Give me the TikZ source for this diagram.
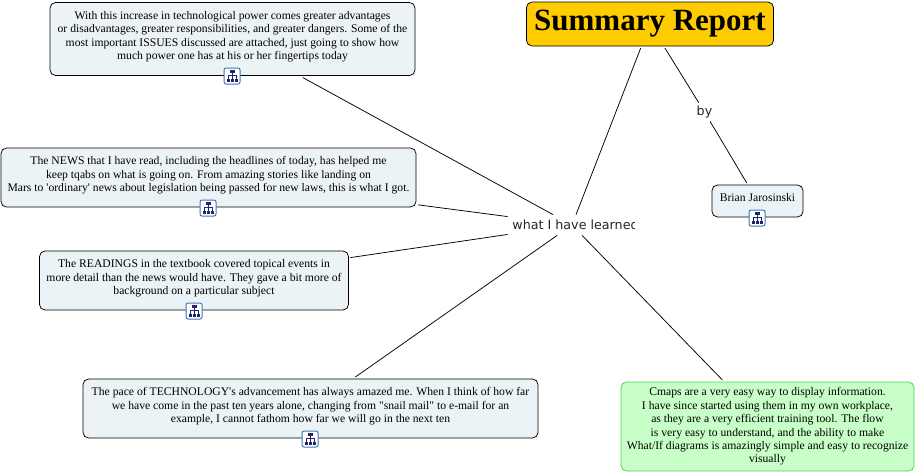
\documentclass[tikz,border=0pt]{standalone}
\usepackage{fontspec}
\setmainfont{Liberation Serif}[Ligatures=TeXOff]
\newfontfamily\labelfont{DejaVu Sans}
\usetikzlibrary{positioning}
\definecolor{boxfill}{HTML}{ECF3F6}
\definecolor{titlefill}{HTML}{FFCC00}
\definecolor{greenfill}{HTML}{C8FFC8}
\definecolor{greenline}{HTML}{55CC55}
\definecolor{iconblue}{HTML}{3F78B8}
\definecolor{icondark}{HTML}{23236E}
\newcommand{\iconroom}{\\[-6.4pt]\mbox{}}
\newcommand{\treeicon}[2]{%
  \node[iconbox] (#1) at (#2) {};
  \begin{scope}[shift={(#1.center)}]
    \draw[icondark, line width=0.6pt] (0,-3) -- (0,3) (-4,4) -- (-4,-1) -- (4,-1) -- (4,4);
    \fill[icondark] (-2.5,-6) rectangle (2.5,-3);
    \foreach \xpos in {-4,0,4} {\fill[icondark] (\xpos-1.5,3) rectangle (\xpos+1.5,6);}
  \end{scope}}
\begin{document}
\begin{tikzpicture}[x=1pt, y=-1pt, line width=0.75pt,
  txt/.style={font=\fontsize{11.65}{13.4}\selectfont, align=center, inner sep=0pt},
  concept/.style={txt, draw=black, fill=boxfill, rounded corners=5.5pt, outer sep=2pt},
  iconbox/.style={draw=iconblue, fill=white, rounded corners=2pt, line width=1pt, minimum width=16pt, minimum height=16pt, inner sep=0pt},
  linker/.style={font=\labelfont\fontsize{12.7}{15}\selectfont, inner sep=0pt, text=black!85}]
\useasboundingbox (0,0) rectangle (915,474);
\node[concept, fill=titlefill, minimum width=247pt, minimum height=44pt, font=\bfseries\fontsize{31}{34}\selectfont] (title) at (650,24) {\raisebox{-1pt}{Summary Report}};
\node[concept, minimum width=365pt, minimum height=73pt] (issues) at (232.5,39) {With this increase in technological power comes greater advantages\\or disadvantages, greater responsibilities, and greater dangers. Some of the\\most important ISSUES discussed are attached, just going to show how\\much power one has at his or her fingertips today\iconroom};
\node[concept, minimum width=415pt, minimum height=59pt] (news) at (208.5,177.5) {The NEWS that I have read, including the headlines of today, has helped me\\keep tqabs on what is going on. From amazing stories like landing on\\Mars to 'ordinary' news about legislation being passed for new laws, this is what I got.\iconroom};
\node[concept, minimum width=309pt, minimum height=59pt] (readings) at (194,280.5) {The READINGS in the textbook covered topical events in\\more detail than the news would have. They gave a bit more of\\background on a particular subject\iconroom};
\node[concept, minimum width=455pt, minimum height=59pt] (tech) at (310.5,408.5) {The pace of TECHNOLOGY's advancement has always amazed me. When I think of how far\\we have come in the past ten years alone, changing from "snail mail" to e-mail for an\\example, I cannot fathom how far we will go in the next ten\iconroom};
\node[concept, minimum width=91pt, minimum height=32pt] (brian) at (757.5,201) {Brian Jarosinski\iconroom};
\node[concept, draw=greenline, fill=greenfill, minimum width=293pt, minimum height=89pt] (cmaps) at (767.5,426.5) {Cmaps are a very easy way to display information.\\I have since started using them in my own workplace,\\as they are a very efficient training tool. The flow\\is very easy to understand, and the ability to make\\What/If diagrams is amazingly simple and easy to recognize\\visually};
\node[minimum width=128pt, minimum height=20pt, inner sep=0pt] (learned) at (572,225) {};
\begin{scope}
  \clip (505,212) rectangle (634,238);
  \node[linker, anchor=west] (learnedtext) at (512,224.5) {what I have learned};
\end{scope}
\node[linker, minimum width=14pt, minimum height=18pt] (by) at (704.5,112) {by};
\draw (title) -- (learned);
\draw (title) -- (by);
\draw (by) -- (brian);
\draw (learned) -- (issues);
\draw (learned) -- (news);
\draw (learned) -- (readings);
\draw (learned) -- (tech);
\draw (learned) -- (cmaps);
\treeicon{issuesicon}{232,76}
\treeicon{newsicon}{208,208}
\treeicon{readingsicon}{194,311}
\treeicon{techicon}{310,439}
\treeicon{brianicon}{757,218}
\end{tikzpicture}
\end{document}
